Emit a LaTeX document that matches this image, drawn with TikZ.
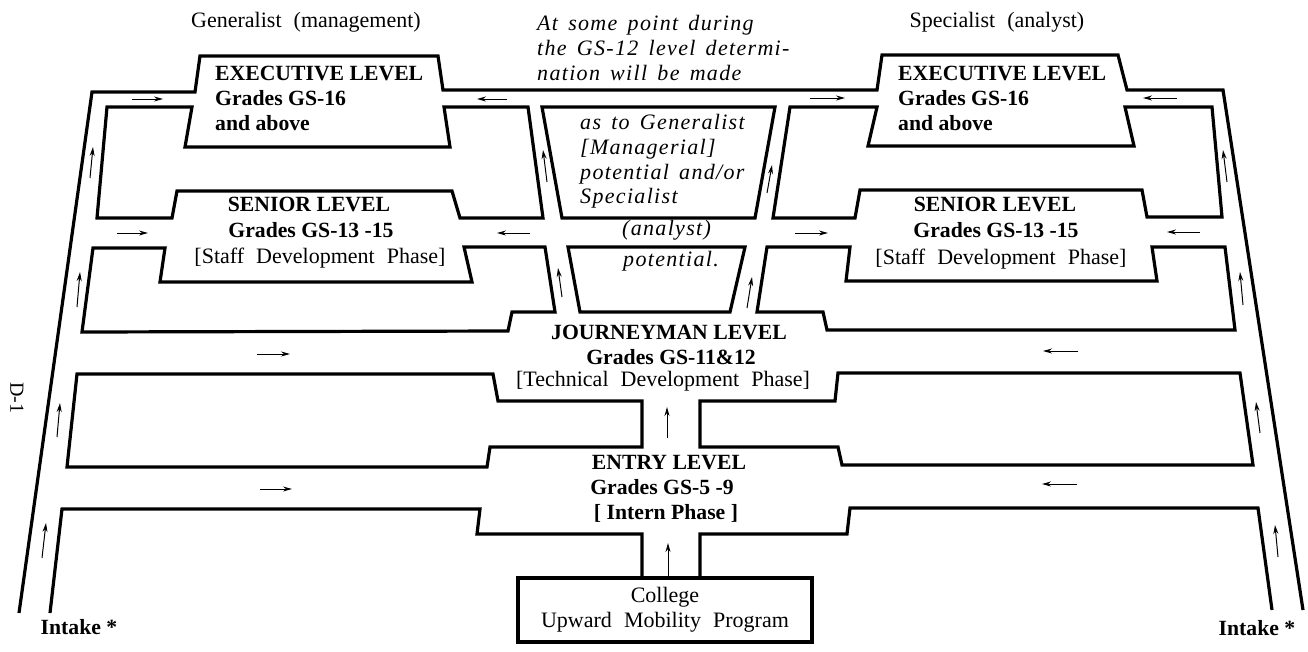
\documentclass[tikz,border=0pt]{standalone}
\usepackage{fontspec}
\setmainfont{Liberation Serif}
\newfontfamily\itfont[LetterSpace=6,WordSpace=1.5]{Liberation Serif}
\newfontfamily\widefont[WordSpace=2.2]{Liberation Serif}
\usetikzlibrary{arrows.meta}
\begin{document}
\begin{tikzpicture}[x=1pt,y=-1pt,
  wall/.style={line width=3.2pt,line join=miter},
  arr/.style={line width=1pt,-{Stealth[length=9pt,width=5pt]}},
  ttl/.style={font=\fontsize{21.7}{24}\selectfont\bfseries,inner sep=0pt},
  reg/.style={font=\fontsize{22}{24}\selectfont\widefont,inner sep=0pt},
  itl/.style={font=\fontsize{22}{24}\selectfont\itfont\itshape,inner sep=0pt}]
\useasboundingbox (0,0) rectangle (1308,651);
% outer rails and top
\draw[wall] (19,613) -- (92,92) -- (195,92) -- (200,56) -- (438,56) -- (443,90)
  -- (877,90) -- (882,55) -- (1118,55) -- (1127,90) -- (1223,90) -- (1303,610);
% left blocks
\draw[wall] (107,107) -- (192,107) -- (185,147) -- (450,147) -- (444,107) -- (528,107)
  -- (543,218) -- (460,218) -- (452,191) -- (177,191) -- (172,218) -- (97,218) -- cycle;
\draw[wall] (93,248) -- (165,248) -- (160,282) -- (472,282) -- (464,247) -- (545,247)
  -- (555,312) -- (512,312) -- (508,331) -- (82,332) -- cycle;
\draw[wall] (77,374) -- (493,374) -- (498,401) -- (642,401) -- (642,447) -- (490,447)
  -- (487,467) -- (67,467) -- cycle;
% right blocks
\draw[wall] (790,107) -- (877,107) -- (868,146) -- (1134,146) -- (1125,107) -- (1212,107)
  -- (1222,217) -- (1147,217) -- (1142,190) -- (860,190) -- (855,218) -- (773,218) -- cycle;
\draw[wall] (767,247) -- (850,247) -- (846,281) -- (1157,281) -- (1152,247) -- (1225,247)
  -- (1235,330) -- (827,330) -- (823,312) -- (757,312) -- cycle;
\draw[wall] (700,401) -- (835,401) -- (838,373) -- (1240,373) -- (1253,465) -- (842,465)
  -- (838,447) -- (700,447) -- cycle;
% central trapezoids
\draw[wall] (542,107) -- (775,107) -- (755,218) -- (562,218) -- cycle;
\draw[wall] (568,247) -- (745,247) -- (730,312) -- (580,312) -- cycle;
% college box and bottom walls
\node[wall,draw,minimum width=294pt,minimum height=64pt,inner sep=0pt,
  font=\fontsize{22}{25}\selectfont\widefont,align=center] (coll) at (665,610)
  {College\\Upward Mobility Program};
\draw[wall] (50,613) -- (62,509) -- (480,509) -- (477,534) -- (642,534) -- (642,578);
\draw[wall] (700,578) -- (700,534) -- (847,534) -- (850,508) -- (1258,508) -- (1272,610);
% arrows left rail
\draw[arr] (90,178) -- (93,147);
\draw[arr] (77,307) -- (80,272);
\draw[arr] (57,437) -- (60,403);
\draw[arr] (42,558) -- (46,523);
\draw[arr] (132,99) -- (163,99);
\draw[arr] (117,233) -- (148,233);
\draw[arr] (257,354) -- (290,354);
\draw[arr] (260,489) -- (292,489);
% arrows center
\draw[arr] (507,99) -- (477,99);
\draw[arr] (810,98) -- (845,98);
\draw[arr] (530,233) -- (497,233);
\draw[arr] (795,233) -- (828,233);
\draw[arr] (547,182) -- (543,150);
\draw[arr] (767,193) -- (772,165);
\draw[arr] (562,297) -- (558,268);
\draw[arr] (747,308) -- (752,277);
\draw[arr] (667,438) -- (667,407);
\draw[arr] (668,578) -- (668,543);
% arrows right rail
\draw[arr] (1177,98) -- (1143,98);
\draw[arr] (1200,232) -- (1167,232);
\draw[arr] (1078,351) -- (1043,351);
\draw[arr] (1077,484) -- (1042,484);
\draw[arr] (1227,182) -- (1223,150);
\draw[arr] (1243,305) -- (1240,272);
\draw[arr] (1260,433) -- (1256,402);
\draw[arr] (1278,557) -- (1275,525);
% headings
\node[reg] (gen) at (306,22) {Generalist (management)};
\node[reg] (spec) at (997,22) {Specialist (analyst)};
% italic note
\node[itl,anchor=mid west] (n1) at (537,28) {At some point during};
\node[itl,anchor=mid west] (n2) at (537,53) {the GS-12 level determi-};
\node[itl,anchor=mid west] (n3) at (537,78) {nation will be made};
\node[itl,anchor=mid west] (n4) at (580,127) {as to Generalist};
\node[itl,anchor=mid west] (n5) at (580,152) {[Managerial]};
\node[itl,anchor=mid west] (n6) at (580,177) {potential and/or};
\node[itl,anchor=mid west] (n7) at (580,201) {Specialist};
\node[itl,anchor=mid west] (n8) at (622,233) {(analyst)};
\node[itl,anchor=mid west] (n9) at (623,264) {potential.};
% executive
\node[ttl,anchor=mid west] (el1) at (215,78) {EXECUTIVE LEVEL};
\node[ttl,anchor=mid west] (el2) at (215,103) {Grades GS-16};
\node[ttl,anchor=mid west] (el3) at (215,128) {and above};
\node[ttl,anchor=mid west] (er1) at (898,78) {EXECUTIVE LEVEL};
\node[ttl,anchor=mid west] (er2) at (898,103) {Grades GS-16};
\node[ttl,anchor=mid west] (er3) at (898,128) {and above};
% senior
\node[ttl,anchor=mid] (sl1) at (309,209) {SENIOR LEVEL};
\node[ttl,anchor=mid] (sl2) at (311,235) {Grades GS-13 -15};
\node[reg,anchor=mid] (sl3) at (320,261) {[Staff Development Phase]};
\node[ttl,anchor=mid] (sr1) at (995,209) {SENIOR LEVEL};
\node[ttl,anchor=mid] (sr2) at (996,235) {Grades GS-13 -15};
\node[reg,anchor=mid] (sr3) at (1001,262) {[Staff Development Phase]};
% journeyman
\node[ttl,anchor=mid] (j1) at (669,337) {JOURNEYMAN LEVEL};
\node[ttl,anchor=mid] (j2) at (671,362) {Grades GS-11\&12};
\node[reg,anchor=mid] (j3) at (663,384) {[Technical Development Phase]};
% entry
\node[ttl,anchor=mid] (e1) at (669,467) {ENTRY LEVEL};
\node[ttl,anchor=mid] (e2) at (662,492) {Grades GS-5 -9};
\node[ttl,anchor=mid] (e3) at (666,517) {[ Intern Phase ]};
% intake and page label
\node[ttl,anchor=mid] (il) at (79,632) {Intake *};
\node[ttl,anchor=mid] (ir) at (1257,633) {Intake *};
\node[font=\fontsize{20}{22}\selectfont,rotate=-90,inner sep=0pt] (d1) at (17,398) {D-1};
\end{tikzpicture}
\end{document}
